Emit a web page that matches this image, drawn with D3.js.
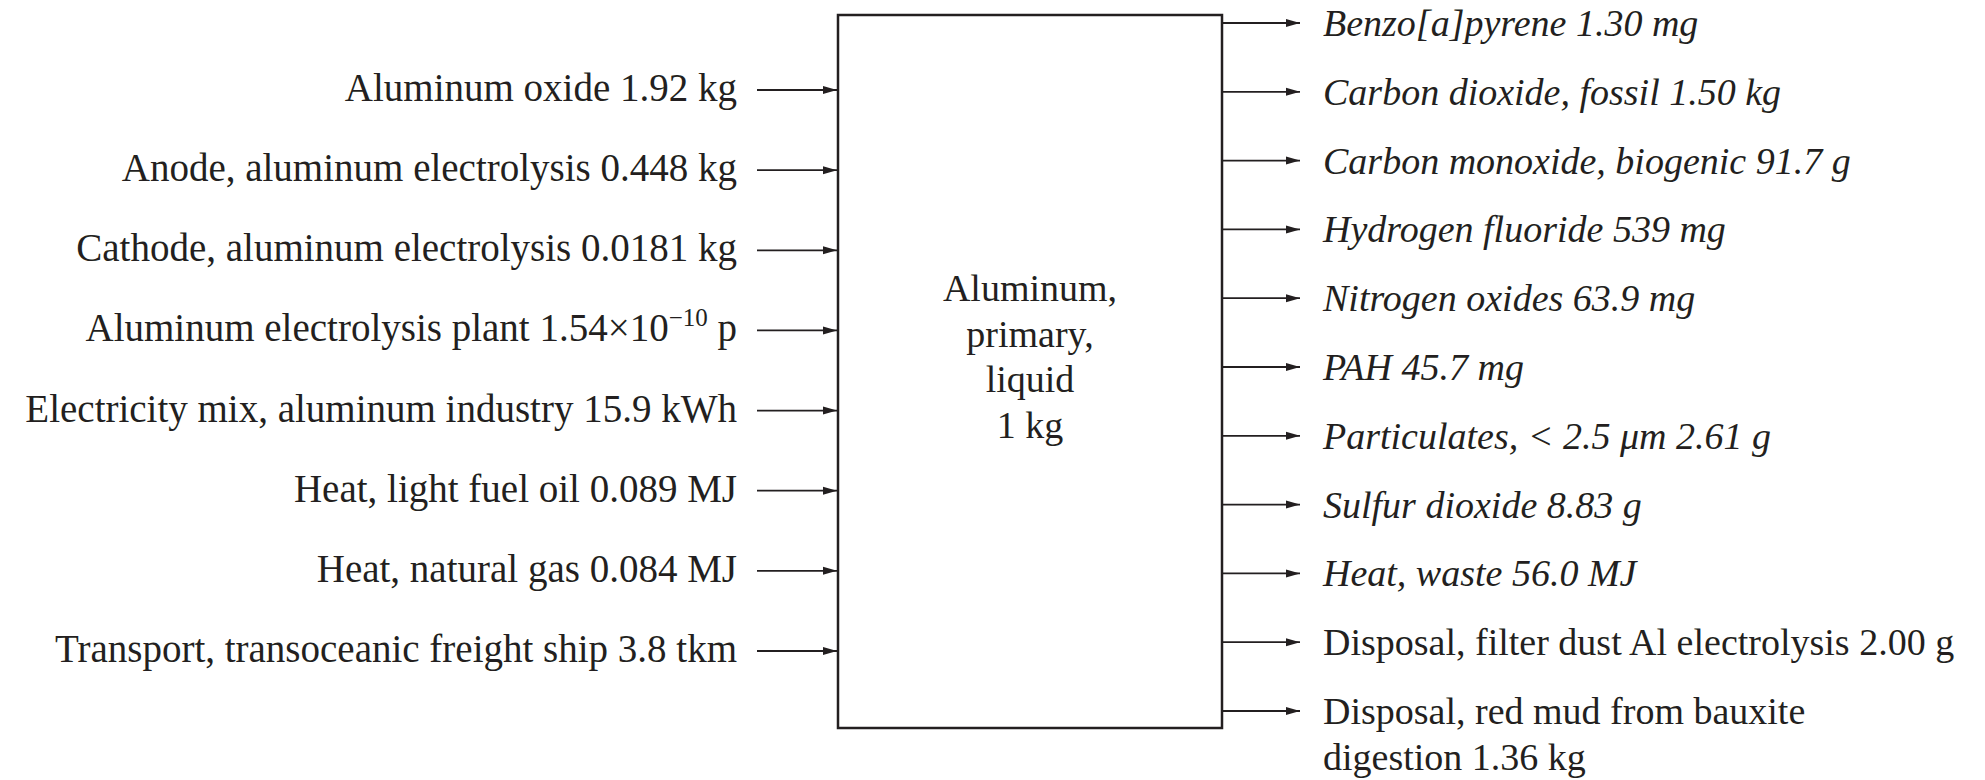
<!DOCTYPE html>
<html>
<head>
<meta charset="utf-8">
<script src="https://cdn.jsdelivr.net/npm/d3@7"></script>
<style>
  html, body { margin: 0; padding: 0; background: #ffffff; }
  svg { display: block; }
</style>
</head>
<body>
<svg id="chart" width="1985" height="780"></svg>
<script>
// ---- data ----
const inputs = [
  "Aluminum oxide 1.92 kg",
  "Anode, aluminum electrolysis 0.448 kg",
  "Cathode, aluminum electrolysis 0.0181 kg",
  "Aluminum electrolysis plant 1.54\u00d710^{\u221210} p",
  "Electricity mix, aluminum industry 15.9 kWh",
  "Heat, light fuel oil 0.089 MJ",
  "Heat, natural gas 0.084 MJ",
  "Transport, transoceanic freight ship 3.8 tkm"
];
const outputs = [
  "Benzo[a]pyrene 1.30 mg",
  "Carbon dioxide, fossil 1.50 kg",
  "Carbon monoxide, biogenic 91.7 g",
  "Hydrogen fluoride 539 mg",
  "Nitrogen oxides 63.9 mg",
  "PAH 45.7 mg",
  "Particulates, < 2.5 \u03bcm 2.61 g",
  "Sulfur dioxide 8.83 g",
  "Heat, waste 56.0 MJ",
  "Disposal, filter dust Al electrolysis 2.00 g",
  "Disposal, red mud from bauxite\ndigestion 1.36 kg"
];
const outputKinds = [
  "emission", "emission", "emission", "emission", "emission", "emission",
  "emission", "emission", "emission", "waste", "waste"
];
const processLabel = ["Aluminum,", "primary,", "liquid", "1 kg"];

// ---- layout ----
const ink = "#231f20";
const font = "'Liberation Serif', 'Times New Roman', serif";
const box = { x0: 838, x1: 1222, y0: 15, y1: 728 };

const svg = d3.select("#chart");

svg.append("defs").append("marker")
  .attr("id", "arrow")
  .attr("viewBox", "0 0 14 10")
  .attr("refX", 14).attr("refY", 5)
  .attr("markerWidth", 14).attr("markerHeight", 10)
  .attr("markerUnits", "userSpaceOnUse")
  .attr("orient", "auto")
  .append("path")
  .attr("d", "M0,1 L14,5 L0,9 Z")
  .attr("fill", ink);

const yIn = d3.scaleLinear().domain([0, inputs.length - 1]).range([90, 651]);
const yOut = d3.scaleLinear().domain([0, outputs.length - 1]).range([23, 711]);

// process box
svg.append("rect")
  .attr("x", box.x0).attr("y", box.y0)
  .attr("width", box.x1 - box.x0).attr("height", box.y1 - box.y0)
  .attr("fill", "none").attr("stroke", ink).attr("stroke-width", 2.5);

const cx = (box.x0 + box.x1) / 2;
svg.append("g").selectAll("text")
  .data(processLabel).join("text")
  .attr("x", cx)
  .attr("y", (d, i) => 301 + i * 45.5)
  .attr("text-anchor", "middle")
  .attr("font-family", font).attr("font-size", 38)
  .attr("fill", ink)
  .text(d => d);

// inputs
const gIn = svg.append("g");
gIn.selectAll("line")
  .data(inputs).join("line")
  .attr("x1", 757).attr("x2", box.x0 - 1)
  .attr("y1", (d, i) => yIn(i)).attr("y2", (d, i) => yIn(i))
  .attr("stroke", ink).attr("stroke-width", 1.8)
  .attr("marker-end", "url(#arrow)");

gIn.selectAll("text")
  .data(inputs).join("text")
  .attr("x", 737)
  .attr("y", (d, i) => yIn(i) + 11)
  .attr("text-anchor", "end")
  .attr("font-family", font).attr("font-size", 39)
  .attr("fill", ink)
  .each(function (d) {
    const t = d3.select(this);
    const parts = d.split(/\^\{(.*?)\}/);
    parts.forEach((p, k) => {
      if (k % 2 === 1) {
        t.append("tspan").attr("font-size", 25).attr("dy", -15).text(p);
      } else {
        const s = t.append("tspan").text(p);
        if (k > 0) s.attr("dy", 15);
      }
    });
  });

// outputs
const gOut = svg.append("g");
gOut.selectAll("line")
  .data(outputs).join("line")
  .attr("x1", box.x1).attr("x2", 1300)
  .attr("y1", (d, i) => yOut(i)).attr("y2", (d, i) => yOut(i))
  .attr("stroke", ink).attr("stroke-width", 1.8)
  .attr("marker-end", "url(#arrow)");

gOut.selectAll("text")
  .data(outputs).join("text")
  .attr("x", 1323)
  .attr("y", (d, i) => yOut(i) + 13)
  .attr("font-family", font).attr("font-size", 38)
  .attr("font-style", (d, i) => outputKinds[i] === "emission" ? "italic" : "normal")
  .attr("fill", ink)
  .each(function (d) {
    const t = d3.select(this);
    d.split("\n").forEach((line, k) => {
      t.append("tspan").attr("x", 1323).attr("dy", k === 0 ? 0 : 46).text(line);
    });
  });
</script>
</body>
</html>
